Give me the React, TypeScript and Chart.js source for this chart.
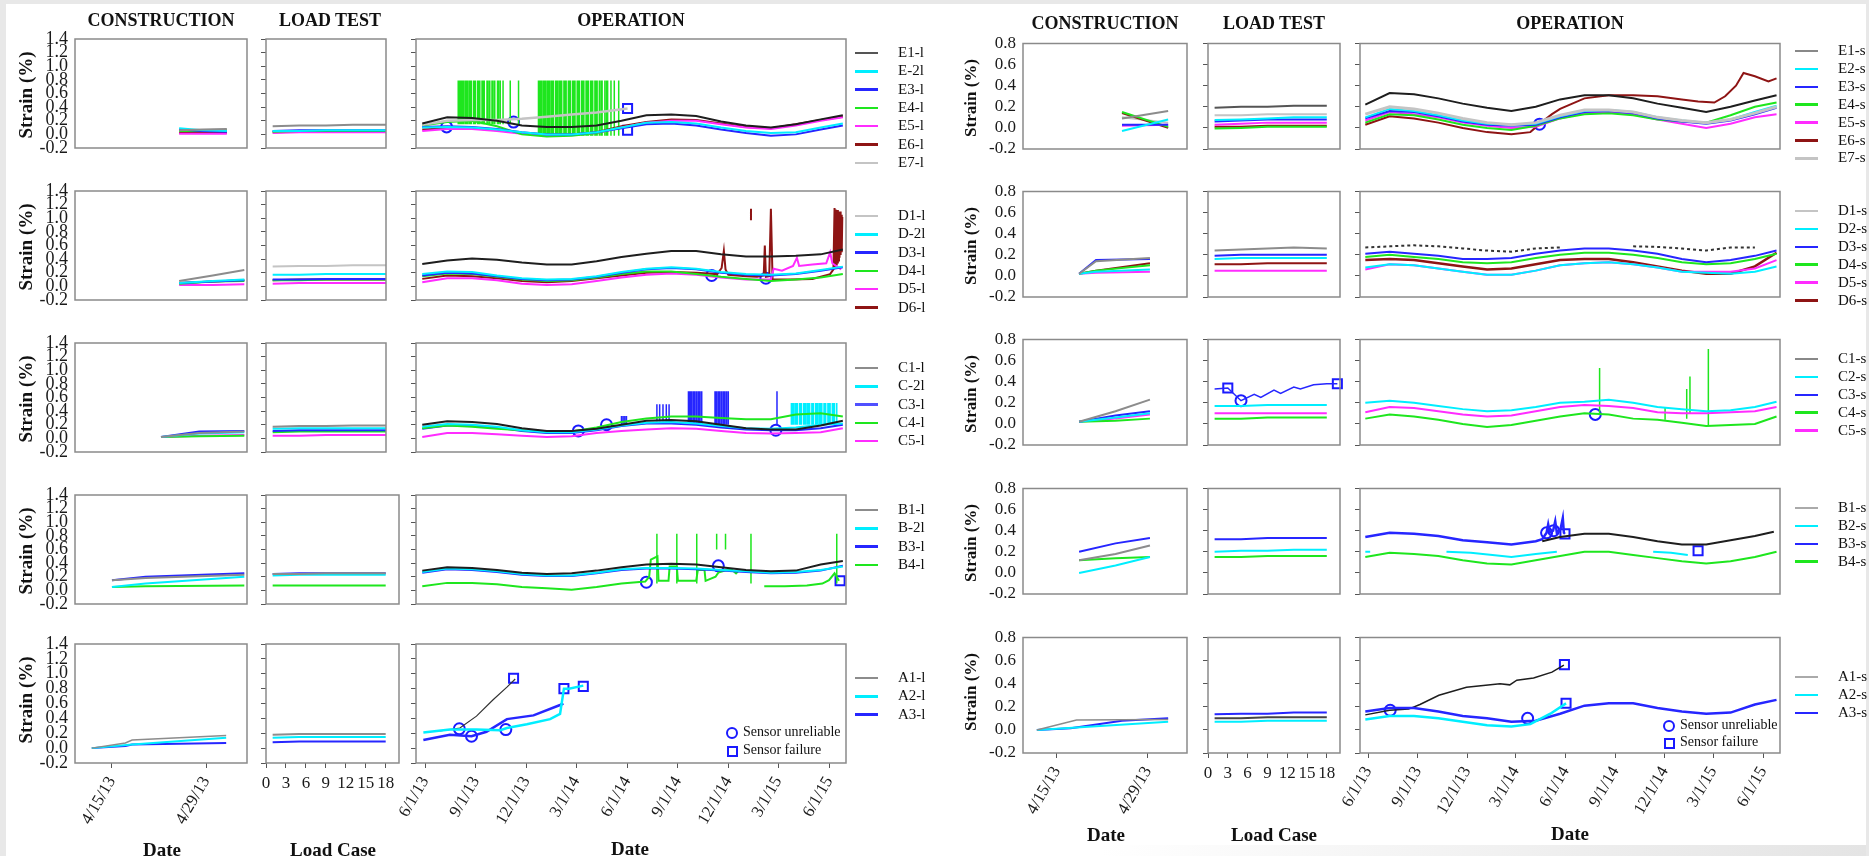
import React, { useEffect, useRef } from 'react';
import { Chart, registerables } from 'chart.js';
Chart.register(...registerables);

const SERIF = '"Liberation Serif","Times New Roman",serif';
const BLK = '#1e1e1e', GRY = '#8c8c8c', LGRY = '#c4c4c4', CYN = '#00eeff', BLU = '#2626ff', GRN = '#1ee61e', MAG = '#ff2cff', MAR = '#8e1414', MK = '#1a1aff';

// ---------- axes ----------
const OP_TICKS = [0, 92, 183, 273, 365, 457, 548, 638, 730];
const OP_LABELS = ['6/1/13', '9/1/13', '12/1/13', '3/1/14', '6/1/14', '9/1/14', '12/1/14', '3/1/15', '6/1/15'];
const CON_TICKS = [0, 14];
const CON_LABELS = ['4/15/13', '4/29/13'];
const LOAD_TICKS = [0, 3, 6, 9, 12, 15, 18];
const LOAD_LABELS = ['0', '3', '6', '9', '12', '15', '18'];
const Y_TICKS_L = [-0.2, 0, 0.2, 0.4, 0.6, 0.8, 1.0, 1.2, 1.4];
const Y_TICKS_R = [-0.2, 0, 0.2, 0.4, 0.6, 0.8];

// ---------- common grids ----------
const G = [-5, 40, 85, 130, 175, 220, 265, 310, 355, 400, 445, 490, 535, 580, 625, 670, 715, 755];
const LX = [1, 5, 9, 13, 18];

// ---------- LEFT construction ----------
const LC_E_X = [10, 13.5, 17.1];
const LC_E1 = [0.06, 0.07, 0.08];
const LC_E2 = [0.09, 0.06, 0.05];
const LC_E3 = [0.07, 0.05, 0.04];
const LC_E4 = [0.05, 0.05, 0.06];
const LC_E5 = [0.01, 0.01, 0.01];
const LC_E6 = [0.02, 0.02, 0.02];
const LC_E7 = [0.06, 0.06, 0.07];
const LC_D_X = [10, 15, 19.7];
const LC_D1 = [0.08, 0.16, 0.24];
const LC_D2 = [0.05, 0.08, 0.10];
const LC_D3 = [0.05, 0.07, 0.09];
const LC_D4 = [0.04, 0.07, 0.08];
const LC_D5 = [0.02, 0.02, 0.03];
const LC_D6 = [0.05, 0.07, 0.09];
const LC_C_X = [7.3, 13, 19.7];
const LC_C1 = [0.02, 0.08, 0.10];
const LC_C2 = [0.02, 0.07, 0.09];
const LC_C3 = [0.02, 0.10, 0.11];
const LC_C4 = [0.02, 0.03, 0.04];
const LC_C5 = [0.02, 0.04, 0.05];
const LC_B_X = [0, 5, 19.7];
const LC_B1 = [0.15, 0.18, 0.23];
const LC_B2 = [0.05, 0.10, 0.20];
const LC_B3 = [0.15, 0.20, 0.25];
const LC_B4 = [0.05, 0.06, 0.07];
const LC_A1_X = [-3, 2, 3, 17];
const LC_A1 = [0, 0.07, 0.11, 0.17];
const LC_A2_X = [-3, 3, 17];
const LC_A2 = [0, 0.05, 0.14];
const LC_A3_X = [-3, 2, 3, 17];
const LC_A3 = [0, 0.03, 0.05, 0.07];

// ---------- LEFT load test ----------
const LL_E1 = [0.12, 0.13, 0.13, 0.14, 0.14];
const LL_E2 = [0.05, 0.05, 0.06, 0.06, 0.06];
const LL_E3 = [0.05, 0.06, 0.06, 0.06, 0.06];
const LL_E4 = [0.04, 0.05, 0.05, 0.05, 0.05];
const LL_E5 = [0.02, 0.03, 0.03, 0.03, 0.03];
const LL_E6 = [0.03, 0.04, 0.04, 0.04, 0.04];
const LL_D1 = [0.29, 0.30, 0.30, 0.31, 0.31];
const LL_D2 = [0.17, 0.17, 0.18, 0.18, 0.18];
const LL_D3 = [0.10, 0.10, 0.11, 0.11, 0.11];
const LL_D4 = [0.09, 0.09, 0.10, 0.10, 0.10];
const LL_D5 = [0.04, 0.05, 0.05, 0.05, 0.05];
const LL_D6 = [0.09, 0.10, 0.10, 0.10, 0.10];
const LL_C1 = [0.17, 0.18, 0.18, 0.19, 0.19];
const LL_C2 = [0.14, 0.15, 0.15, 0.15, 0.15];
const LL_C3 = [0.11, 0.12, 0.12, 0.12, 0.12];
const LL_C4 = [0.09, 0.10, 0.10, 0.10, 0.10];
const LL_C5 = [0.04, 0.04, 0.05, 0.05, 0.05];
const LL_B1 = [0.24, 0.24, 0.25, 0.25, 0.25];
const LL_B2 = [0.22, 0.23, 0.23, 0.23, 0.23];
const LL_B3 = [0.24, 0.25, 0.25, 0.25, 0.25];
const LL_B4 = [0.07, 0.07, 0.07, 0.07, 0.07];
const LL_A1 = [0.18, 0.19, 0.19, 0.19, 0.19];
const LL_A2 = [0.14, 0.15, 0.15, 0.15, 0.15];
const LL_A3 = [0.08, 0.09, 0.09, 0.09, 0.09];

// ---------- LEFT operation ----------
const LO_E1 = [0.16, 0.25, 0.24, 0.20, 0.13, 0.11, 0.11, 0.13, 0.20, 0.28, 0.29, 0.27, 0.19, 0.13, 0.10, 0.15, 0.22, 0.28];
const LO_E2 = [0.10, 0.11, 0.10, 0.07, 0.03, 0.00, 0.00, 0.03, 0.10, 0.17, 0.18, 0.16, 0.10, 0.05, 0.02, 0.03, 0.10, 0.16];
const LO_E3 = [0.11, 0.12, 0.11, 0.08, 0.03, 0.00, 0.00, 0.03, 0.09, 0.15, 0.16, 0.13, 0.07, 0.02, -0.02, 0.00, 0.07, 0.13];
const LO_E4_X = [-5, 40, 85, 130, 175, 220, 265, 310, 352];
const LO_E4 = [0.13, 0.18, 0.20, 0.12, 0.00, -0.03, -0.02, 0.02, 0.10];
const LO_E4_SPK1 = [60, 62, 64, 66, 68, 70, 73, 75, 77, 80, 82, 84, 88, 90, 91, 95, 97, 99, 103, 105, 107, 112, 114, 117, 121, 123, 126, 131, 133, 136, 141, 154, 169];
const LO_E4_SPK2 = [205, 207, 208, 210, 211, 214, 216, 218, 221, 223, 225, 228, 230, 232, 236, 238, 240, 243, 245, 247, 251, 253, 255, 259, 261, 263, 267, 269, 271, 275, 277, 279, 283, 285, 287, 291, 293, 295, 299, 301, 303, 307, 309, 311, 315, 318, 320, 325, 328, 330, 336, 342, 350];
const LO_E5 = [0.05, 0.08, 0.08, 0.05, 0.01, -0.01, -0.01, 0.02, 0.10, 0.17, 0.20, 0.20, 0.15, 0.10, 0.08, 0.13, 0.20, 0.25];
const LO_E6 = [0.07, 0.09, 0.09, 0.06, 0.02, 0.00, 0.00, 0.03, 0.12, 0.18, 0.22, 0.21, 0.16, 0.11, 0.09, 0.15, 0.21, 0.26];
const LO_E7_X = [-5, 40, 85, 130, 175, 220, 265, 310, 366];
const LO_E7 = [0.14, 0.20, 0.21, 0.21, 0.23, 0.26, 0.29, 0.32, 0.38];

const LO_D1 = [0.33, 0.38, 0.41, 0.39, 0.35, 0.32, 0.32, 0.37, 0.43, 0.48, 0.52, 0.52, 0.47, 0.44, 0.44, 0.45, 0.47, 0.54];
const LO_D2 = [0.18, 0.22, 0.21, 0.16, 0.12, 0.10, 0.11, 0.15, 0.21, 0.26, 0.28, 0.26, 0.21, 0.18, 0.17, 0.19, 0.24, 0.29];
const LO_D3 = [0.16, 0.20, 0.19, 0.15, 0.11, 0.09, 0.10, 0.14, 0.20, 0.25, 0.27, 0.25, 0.20, 0.17, 0.16, 0.18, 0.23, 0.28];
const LO_D4 = [0.15, 0.19, 0.18, 0.14, 0.10, 0.08, 0.09, 0.13, 0.18, 0.22, 0.22, 0.18, 0.14, 0.11, 0.08, 0.10, 0.13, 0.18];
const LO_D5_X = [-5, 40, 85, 130, 175, 220, 265, 310, 355, 400, 445, 490, 535, 580, 625, 630, 645, 665, 672, 676, 700, 725, 732, 736, 752];
const LO_D5 = [0.06, 0.12, 0.12, 0.09, 0.04, 0.02, 0.03, 0.08, 0.13, 0.17, 0.19, 0.17, 0.13, 0.10, 0.10, 0.26, 0.23, 0.30, 0.42, 0.30, 0.32, 0.34, 0.50, 0.34, 0.25];
const LO_D6_X = [-5, 40, 85, 130, 175, 220, 265, 310, 355, 400, 445, 490, 528, 536, 540, 543, 548, 580, 600, 612, 614, 616, 622, 625, 628, 660, 700, 732, 738, 740, 741, 742, 743, 744, 745, 746, 747, 748, 749, 750, 751, 752, 753, 754, 755, 589, 589];
const LO_D6 = [0.11, 0.16, 0.15, 0.12, 0.08, 0.06, 0.08, 0.12, 0.16, 0.20, 0.21, 0.20, 0.18, 0.27, 0.52, 0.25, 0.17, 0.15, 0.14, 0.16, 0.60, 0.14, 0.15, 1.14, 0.10, 0.10, 0.11, 0.18, 0.25, 1.15, 0.30, 1.13, 0.32, 1.12, 0.35, 1.12, 0.38, 1.10, 0.42, 1.10, 0.46, 1.05, 0.50, 1.02, null, 0.97, 1.14];

const LO_C1 = [0.20, 0.25, 0.24, 0.21, 0.15, 0.11, 0.11, 0.14, 0.20, 0.26, 0.27, 0.25, 0.20, 0.15, 0.13, 0.13, 0.19, 0.26];
const LO_C2 = [0.17, 0.21, 0.20, 0.17, 0.12, 0.09, 0.09, 0.13, 0.19, 0.23, 0.24, 0.22, 0.18, 0.15, 0.14, 0.16, 0.20, 0.22];
const LO_C2_SPK = [662, 664, 666, 669, 671, 673, 677, 679, 680, 684, 686, 688, 691, 693, 695, 699, 701, 702, 706, 708, 710, 713, 715, 717, 721, 723, 724, 728, 730, 732, 736, 738, 740, 744];
const LO_C3 = [0.14, 0.19, 0.19, 0.16, 0.11, 0.08, 0.08, 0.12, 0.18, 0.22, 0.22, 0.20, 0.16, 0.13, 0.12, 0.12, 0.15, 0.20];
const LO_C3_SPK_A = [355, 358, 361, 364];
const LO_C3_SPK_B = [419, 424, 430, 436, 441];
const LO_C3_SPK_C = [476, 478, 479, 481, 482, 485, 487, 488, 491, 494, 496, 497, 500, 524, 526, 527, 530, 532, 533, 536, 539, 541, 542, 545, 548, 636];
const LO_C4 = [0.15, 0.19, 0.17, 0.14, 0.12, 0.10, 0.10, 0.16, 0.24, 0.29, 0.32, 0.32, 0.30, 0.28, 0.28, 0.35, 0.37, 0.32];
const LO_C5 = [0.02, 0.08, 0.08, 0.06, 0.04, 0.02, 0.03, 0.08, 0.11, 0.13, 0.15, 0.14, 0.11, 0.08, 0.07, 0.08, 0.09, 0.15];

const LO_B1 = [0.29, 0.34, 0.33, 0.30, 0.26, 0.24, 0.25, 0.29, 0.34, 0.38, 0.39, 0.38, 0.34, 0.30, 0.28, 0.29, 0.38, 0.43];
const LO_B2 = [0.27, 0.32, 0.31, 0.28, 0.24, 0.22, 0.22, 0.26, 0.31, 0.33, 0.33, 0.32, 0.30, 0.28, 0.26, 0.27, 0.30, 0.35];
const LO_B3 = [0.26, 0.31, 0.30, 0.27, 0.23, 0.21, 0.21, 0.25, 0.30, 0.32, 0.32, 0.31, 0.29, 0.27, 0.25, 0.26, 0.29, 0.36];
const LO_B4_X = [-5, 40, 85, 130, 175, 220, 265, 310, 355, 398, 405, 408, 420, 422, 440, 442, 455, 457, 490, 493, 505, 507, 525, 530, 545, 555, 562, 568, 575, 580, 613, 650, 690, 718, 730, 740, 748];
const LO_B4 = [0.06, 0.11, 0.11, 0.09, 0.05, 0.03, 0.01, 0.05, 0.10, 0.13, 0.20, 0.45, 0.50, 0.14, 0.14, 0.35, 0.35, 0.14, 0.14, 0.30, 0.30, 0.14, 0.20, 0.26, 0.30, 0.30, 0.25, 0.30, 0.30, null, 0.06, 0.06, 0.07, 0.10, 0.15, 0.25, 0.14];
const LO_B4_SPK = [419, 455, 491, 589, 744];
const LO_B4_SPK_SHORT = [527, 543];

const LO_A1_X = [27, 63, 93, 123, 148, 163];
const LO_A1 = [0.23, 0.27, 0.43, 0.65, 0.82, 0.93];
const LO_A2_X = [-3, 45, 93, 136, 148, 184, 226, 244, 251, 260, 286];
const LO_A2 = [0.21, 0.25, 0.25, 0.24, 0.27, 0.32, 0.39, 0.46, 0.80, 0.80, 0.84];
const LO_A3_X = [-3, 45, 84, 111, 148, 196, 244, 250];
const LO_A3 = [0.11, 0.18, 0.16, 0.22, 0.39, 0.44, 0.58, 0.60];

// ---------- RIGHT construction ----------
const RC_E_X = [10, 17.1];
const RC_E1 = [0.09, 0.16];
const RC_E2 = [-0.03, 0.08];
const RC_E3 = [0.03, 0.03];
const RC_E4 = [0.15, 0.01];
const RC_E5 = [0.02, 0.03];
const RC_E6 = [0.14, 0.0];
const RC_E7 = [0.10, 0.05];
const RC_D_X = [3.4, 6, 14.3];
const RC_D1 = [0.02, 0.14, 0.17];
const RC_D2 = [0.02, 0.04, 0.06];
const RC_D3 = [0.02, 0.15, 0.16];
const RC_D4 = [0.02, 0.05, 0.10];
const RC_D5 = [0.02, 0.03, 0.04];
const RC_D6 = [0.02, 0.05, 0.12];
const RC_C_X = [3.4, 9, 14.3];
const RC_C1 = [0.02, 0.12, 0.23];
const RC_C2 = [0.02, 0.06, 0.10];
const RC_C3 = [0.02, 0.08, 0.12];
const RC_C4 = [0.02, 0.03, 0.05];
const RC_C5 = [0.02, 0.05, 0.09];
const RC_B_X = [3.4, 9, 14.3];
const RC_B1 = [0.12, 0.18, 0.26];
const RC_B2 = [0.0, 0.07, 0.15];
const RC_B3 = [0.20, 0.28, 0.33];
const RC_B4 = [0.12, 0.14, 0.15];
const RC_A1_X = [-3.1, 3, 17.1];
const RC_A1 = [0, 0.085, 0.09];
const RC_A2_X = [-3.1, 17.1];
const RC_A2 = [0, 0.07];
const RC_A3_X = [-3.1, 2.1, 10, 17.1];
const RC_A3 = [0, 0.015, 0.08, 0.10];

// ---------- RIGHT load test ----------
const RL_E1 = [0.19, 0.20, 0.20, 0.21, 0.21];
const RL_E2 = [0.075, 0.08, 0.09, 0.10, 0.10];
const RL_E3 = [0.06, 0.07, 0.08, 0.08, 0.08];
const RL_E4 = [-0.005, 0.0, 0.01, 0.01, 0.01];
const RL_E5 = [0.03, 0.04, 0.05, 0.05, 0.05];
const RL_E6 = [0.01, 0.01, 0.02, 0.02, 0.02];
const RL_E7 = [0.12, 0.12, 0.13, 0.13, 0.13];
const RL_D1 = [0.24, 0.25, 0.26, 0.27, 0.26];
const RL_D2 = [0.16, 0.17, 0.17, 0.17, 0.17];
const RL_D3 = [0.19, 0.20, 0.20, 0.20, 0.20];
const RL_D5 = [0.05, 0.05, 0.05, 0.05, 0.05];
const RL_D6 = [0.11, 0.11, 0.12, 0.12, 0.12];
const RL_C2 = [0.17, 0.17, 0.18, 0.18, 0.18];
const RL_C3_X = [1, 3, 5, 7, 8, 10, 11, 13, 14, 16, 18, 19.6];
const RL_C3 = [0.33, 0.34, 0.22, 0.28, 0.25, 0.32, 0.29, 0.35, 0.33, 0.37, 0.38, 0.38];
const RL_C4 = [0.05, 0.05, 0.06, 0.06, 0.06];
const RL_C5 = [0.10, 0.10, 0.10, 0.10, 0.10];
const RL_B2 = [0.20, 0.21, 0.21, 0.22, 0.22];
const RL_B3 = [0.32, 0.32, 0.33, 0.33, 0.33];
const RL_B4 = [0.15, 0.15, 0.16, 0.16, 0.16];
const RL_A1 = [0.10, 0.10, 0.11, 0.11, 0.11];
const RL_A2 = [0.07, 0.07, 0.08, 0.08, 0.08];
const RL_A3 = [0.135, 0.14, 0.14, 0.15, 0.15];

// ---------- RIGHT operation ----------
const RO_E1 = [0.22, 0.33, 0.32, 0.28, 0.23, 0.19, 0.16, 0.20, 0.27, 0.31, 0.31, 0.28, 0.23, 0.19, 0.15, 0.20, 0.26, 0.31];
const RO_E2 = [0.10, 0.18, 0.16, 0.12, 0.07, 0.04, 0.03, 0.04, 0.11, 0.16, 0.17, 0.15, 0.10, 0.07, 0.05, 0.08, 0.15, 0.21];
const RO_E3 = [0.09, 0.16, 0.15, 0.11, 0.06, 0.03, 0.02, 0.03, 0.10, 0.15, 0.16, 0.14, 0.09, 0.06, 0.04, 0.07, 0.13, 0.19];
const RO_E4 = [0.05, 0.13, 0.12, 0.08, 0.03, 0.00, -0.02, 0.02, 0.09, 0.13, 0.14, 0.12, 0.08, 0.06, 0.05, 0.12, 0.20, 0.24];
const RO_E5 = [0.07, 0.15, 0.13, 0.10, 0.05, 0.02, 0.00, 0.01, 0.09, 0.14, 0.15, 0.13, 0.08, 0.04, 0.00, 0.04, 0.10, 0.13];
const RO_E6_X = [-5, 40, 85, 130, 175, 220, 265, 300, 320, 340, 355, 400, 445, 490, 535, 580, 610, 640, 660, 680, 694, 715, 740, 755];
const RO_E6 = [0.03, 0.11, 0.09, 0.05, 0.00, -0.04, -0.06, -0.04, 0.05, 0.13, 0.18, 0.28, 0.31, 0.31, 0.30, 0.27, 0.25, 0.24, 0.30, 0.40, 0.52, 0.49, 0.44, 0.47];
const RO_E7 = [0.13, 0.20, 0.18, 0.14, 0.09, 0.05, 0.03, 0.05, 0.12, 0.17, 0.17, 0.15, 0.10, 0.07, 0.05, 0.08, 0.14, 0.20];

const RO_D1 = [0.27, 0.28, 0.29, 0.28, 0.26, 0.24, 0.23, 0.26, 0.27, null, null, 0.28, 0.275, 0.26, 0.24, 0.27, 0.27, null];
const RO_D2 = [0.08, 0.11, 0.10, 0.07, 0.04, 0.01, 0.01, 0.05, 0.10, 0.12, 0.13, 0.11, 0.08, 0.04, 0.03, 0.02, 0.04, 0.09];
const RO_D3 = [0.21, 0.23, 0.21, 0.19, 0.16, 0.16, 0.17, 0.21, 0.24, 0.26, 0.26, 0.24, 0.21, 0.16, 0.13, 0.15, 0.19, 0.24];
const RO_D4 = [0.18, 0.20, 0.18, 0.16, 0.13, 0.12, 0.13, 0.17, 0.20, 0.22, 0.22, 0.20, 0.17, 0.13, 0.11, 0.12, 0.16, 0.21];
const RO_D5 = [0.06, 0.11, 0.10, 0.07, 0.04, 0.01, 0.01, 0.05, 0.10, 0.12, 0.13, 0.11, 0.08, 0.04, 0.04, 0.04, 0.07, 0.15];
const RO_D6 = [0.15, 0.16, 0.15, 0.12, 0.09, 0.06, 0.07, 0.11, 0.15, 0.16, 0.16, 0.13, 0.09, 0.05, 0.02, 0.02, 0.09, 0.22];

const RO_C2 = [0.20, 0.22, 0.20, 0.17, 0.14, 0.12, 0.13, 0.16, 0.20, 0.21, 0.23, 0.20, 0.16, 0.14, 0.12, 0.13, 0.16, 0.21];
const RO_C4 = [0.05, 0.09, 0.07, 0.04, 0.00, -0.03, -0.01, 0.03, 0.07, 0.10, 0.09, 0.05, 0.04, 0.01, -0.02, -0.01, 0.00, 0.07];
const RO_C5 = [0.11, 0.16, 0.15, 0.12, 0.09, 0.07, 0.08, 0.12, 0.16, 0.18, 0.17, 0.15, 0.11, 0.10, 0.10, 0.11, 0.12, 0.16];
const RO_C4_SPK_DAYS = [428, 549, 589, 595, 629];
const RO_C4_SPK_LOW = [0.10, 0.04, 0.05, 0.10, -0.02];
const RO_C4_SPK_HIGH = [0.53, 0.16, 0.33, 0.45, 0.71];

const RO_B1_X = [322, 355, 400, 445, 490, 535, 580, 625, 670, 715, 750];
const RO_B1 = [0.30, 0.34, 0.37, 0.37, 0.34, 0.30, 0.27, 0.27, 0.31, 0.35, 0.39];
const RO_B2_X = [-5, 4, 100, 145, 190, 230, 265, 310, 349, 450, 527, 560, 591];
const RO_B2 = [0.20, 0.20, null, 0.20, 0.19, 0.17, 0.15, 0.18, 0.20, null, 0.20, 0.19, 0.17];
const RO_B3_X = [-5, 40, 85, 130, 175, 220, 265, 310, 322, 330, 333, 336, 342, 346, 349, 356, 360, 362, 364];
const RO_B3 = [0.34, 0.38, 0.37, 0.35, 0.31, 0.29, 0.27, 0.30, 0.32, 0.38, 0.46, 0.38, 0.40, 0.49, 0.38, 0.42, 0.52, 0.38, 0.37];
const RO_B4 = [0.15, 0.19, 0.18, 0.16, 0.12, 0.09, 0.08, 0.12, 0.16, 0.20, 0.20, 0.17, 0.14, 0.11, 0.09, 0.11, 0.15, 0.20];

const RO_A1_X = [-5, 40, 75, 96, 131, 182, 244, 262, 275, 306, 340, 362];
const RO_A1 = [0.13, 0.17, 0.18, 0.22, 0.30, 0.37, 0.40, 0.39, 0.43, 0.45, 0.50, 0.56];
const RO_A2_X = [-5, 40, 85, 130, 175, 220, 265, 300, 337, 366];
const RO_A2 = [0.09, 0.12, 0.12, 0.10, 0.07, 0.04, 0.03, 0.05, 0.14, 0.23];
const RO_A3 = [0.16, 0.19, 0.19, 0.16, 0.12, 0.10, 0.07, 0.08, 0.14, 0.21, 0.23, 0.23, 0.19, 0.16, 0.14, 0.15, 0.22, 0.26];

// ---------- legends ----------
const LEG_L_E = ['E1-l', 'E-2l', 'E3-l', 'E4-l', 'E5-l', 'E6-l', 'E7-l'];
const LEG_L_D = ['D1-l', 'D-2l', 'D3-l', 'D4-l', 'D5-l', 'D6-l'];
const LEG_L_C = ['C1-l', 'C-2l', 'C3-l', 'C4-l', 'C5-l'];
const LEG_L_B = ['B1-l', 'B-2l', 'B3-l', 'B4-l'];
const LEG_L_A = ['A1-l', 'A2-l', 'A3-l'];
const LEG_R_E = ['E1-s', 'E2-s', 'E3-s', 'E4-s', 'E5-s', 'E6-s', 'E7-s'];
const LEG_R_D = ['D1-s', 'D2-s', 'D3-s', 'D4-s', 'D5-s', 'D6-s'];
const LEG_R_C = ['C1-s', 'C2-s', 'C3-s', 'C4-s', 'C5-s'];
const LEG_R_B = ['B1-s', 'B2-s', 'B3-s', 'B4-s'];
const LEG_R_A = ['A1-s', 'A2-s', 'A3-s'];
const COL_E = ['#555555', CYN, BLU, GRN, MAG, MAR, LGRY];
const COL_D = [LGRY, CYN, BLU, GRN, MAG, MAR];
const COL_C = [GRY, CYN, '#5050ff', GRN, MAG];
const COL_B = [GRY, CYN, BLU, GRN];
const COL_A = [GRY, CYN, BLU];

// ---------- types ----------
type S = { c: string; x: number[]; y: (number | null)[]; w?: number; d?: number[] };
type K = { c: string; days: number[]; lo: number[]; hi: number[]; w?: number };
type M = [number, number];
type P = { h: 'L' | 'R'; r: number; k: 'con' | 'load' | 'op'; s: S[]; spk?: K[]; circ?: M[]; sq?: M[] };

const s = (c: string, x: number[], y: (number | null)[], w = 2, d?: number[]): S => ({ c, x, y, w, d });
const spk = (c: string, days: number[], lo: number, hi: number): K => ({ c, days, lo: days.map(() => lo), hi: days.map(() => hi) });

const PANELS: P[] = [
  // LEFT row E
  { h: 'L', r: 0, k: 'con', s: [s(GRY, LC_E_X, LC_E1), s(CYN, LC_E_X, LC_E2), s(BLU, LC_E_X, LC_E3), s(GRN, LC_E_X, LC_E4), s(MAG, LC_E_X, LC_E5), s(MAR, LC_E_X, LC_E6), s(LGRY, LC_E_X, LC_E7)] },
  { h: 'L', r: 0, k: 'load', s: [s(GRY, LX, LL_E1), s(CYN, LX, LL_E2), s(BLU, LX, LL_E3), s(GRN, LX, LL_E4), s(MAG, LX, LL_E5), s(MAR, LX, LL_E6)] },
  { h: 'L', r: 0, k: 'op', s: [s(BLK, G, LO_E1), s(LGRY, LO_E7_X, LO_E7, 2.5), s(CYN, G, LO_E2), s(BLU, G, LO_E3), s(GRN, LO_E4_X, LO_E4), s(MAG, G, LO_E5), s(MAR, G, LO_E6)],
    spk: [spk(GRN, LO_E4_SPK1, 0.15, 0.79), spk(GRN, LO_E4_SPK2, -0.02, 0.79)], circ: [[39, 0.11], [160, 0.18]], sq: [[366, 0.38], [366, 0.06]] },
  // LEFT row D
  { h: 'L', r: 1, k: 'con', s: [s(GRY, LC_D_X, LC_D1), s(CYN, LC_D_X, LC_D2), s(BLU, LC_D_X, LC_D3), s(GRN, LC_D_X, LC_D4), s(MAG, LC_D_X, LC_D5), s(MAR, LC_D_X, LC_D6)] },
  { h: 'L', r: 1, k: 'load', s: [s(LGRY, LX, LL_D1), s(CYN, LX, LL_D2), s(BLU, LX, LL_D3), s(GRN, LX, LL_D4), s(MAG, LX, LL_D5), s(MAR, LX, LL_D6)] },
  { h: 'L', r: 1, k: 'op', s: [s(BLK, G, LO_D1), s(CYN, G, LO_D2), s(BLU, G, LO_D3), s(GRN, G, LO_D4), s(MAG, LO_D5_X, LO_D5), s(MAR, LO_D6_X, LO_D6)],
    circ: [[518, 0.16], [616, 0.12]] },
  // LEFT row C
  { h: 'L', r: 2, k: 'con', s: [s(GRY, LC_C_X, LC_C1), s(CYN, LC_C_X, LC_C2), s(BLU, LC_C_X, LC_C3), s(GRN, LC_C_X, LC_C4), s(MAG, LC_C_X, LC_C5)] },
  { h: 'L', r: 2, k: 'load', s: [s(GRY, LX, LL_C1), s(CYN, LX, LL_C2), s(BLU, LX, LL_C3), s(GRN, LX, LL_C4), s(MAG, LX, LL_C5)] },
  { h: 'L', r: 2, k: 'op', s: [s(BLK, G, LO_C1), s(CYN, G, LO_C2), s(GRN, G, LO_C4), s(BLU, G, LO_C3), s(MAG, G, LO_C5)],
    spk: [spk(CYN, LO_C2_SPK, 0.2, 0.52), spk(BLU, LO_C3_SPK_A, 0.2, 0.33), spk(BLU, LO_C3_SPK_B, 0.25, 0.5), spk(BLU, LO_C3_SPK_C, 0.2, 0.69)],
    circ: [[277, 0.11], [328, 0.2], [634, 0.12]] },
  // LEFT row B
  { h: 'L', r: 3, k: 'con', s: [s(GRY, LC_B_X, LC_B1), s(CYN, LC_B_X, LC_B2), s(BLU, LC_B_X, LC_B3), s(GRN, LC_B_X, LC_B4)] },
  { h: 'L', r: 3, k: 'load', s: [s(GRY, LX, LL_B1), s(CYN, LX, LL_B2), s(BLU, LX, LL_B3), s(GRN, LX, LL_B4)] },
  { h: 'L', r: 3, k: 'op', s: [s(BLK, G, LO_B1), s(CYN, G, LO_B2), s(BLU, G, LO_B3), s(GRN, LO_B4_X, LO_B4)],
    spk: [spk(GRN, LO_B4_SPK, 0.1, 0.83), spk(GRN, LO_B4_SPK_SHORT, 0.6, 0.83)],
    circ: [[400, 0.12], [530, 0.36]], sq: [[750, 0.14]] },
  // LEFT row A
  { h: 'L', r: 4, k: 'con', s: [s(GRY, LC_A1_X, LC_A1, 1.5), s(CYN, LC_A2_X, LC_A2), s(BLU, LC_A3_X, LC_A3)] },
  { h: 'L', r: 4, k: 'load', s: [s(GRY, LX, LL_A1), s(CYN, LX, LL_A2), s(BLU, LX, LL_A3)] },
  { h: 'L', r: 4, k: 'op', s: [s(CYN, LO_A2_X, LO_A2, 2.5), s(BLU, LO_A3_X, LO_A3, 2.5), s('#333333', LO_A1_X, LO_A1, 1.2)],
    circ: [[62, 0.26], [84, 0.16], [146, 0.25]], sq: [[160, 0.94], [251, 0.8], [286, 0.83]] },

  // RIGHT row E
  { h: 'R', r: 0, k: 'con', s: [s(GRY, RC_E_X, RC_E1), s(CYN, RC_E_X, RC_E2), s(BLU, RC_E_X, RC_E3), s(GRN, RC_E_X, RC_E4), s(MAG, RC_E_X, RC_E5), s(MAR, RC_E_X, RC_E6), s(LGRY, RC_E_X, RC_E7)] },
  { h: 'R', r: 0, k: 'load', s: [s('#555555', LX, RL_E1), s(LGRY, LX, RL_E7), s(CYN, LX, RL_E2), s(BLU, LX, RL_E3), s(GRN, LX, RL_E4), s(MAG, LX, RL_E5), s(MAR, LX, RL_E6)] },
  { h: 'R', r: 0, k: 'op', s: [s(BLK, G, RO_E1), s(LGRY, G, RO_E7, 3), s(CYN, G, RO_E2), s(BLU, G, RO_E3), s(GRN, G, RO_E4), s(MAG, G, RO_E5), s(MAR, RO_E6_X, RO_E6)],
    circ: [[317, 0.035]] },
  // RIGHT row D
  { h: 'R', r: 1, k: 'con', s: [s(GRY, RC_D_X, RC_D1), s(CYN, RC_D_X, RC_D2), s(BLU, RC_D_X, RC_D3), s(GRN, RC_D_X, RC_D4), s(MAG, RC_D_X, RC_D5), s(MAR, RC_D_X, RC_D6)] },
  { h: 'R', r: 1, k: 'load', s: [s(GRY, LX, RL_D1), s(CYN, LX, RL_D2), s(BLU, LX, RL_D3), s(MAG, LX, RL_D5), s(MAR, LX, RL_D6)] },
  { h: 'R', r: 1, k: 'op', s: [s('#333333', G, RO_D1, 2, [3, 3]), s(CYN, G, RO_D2), s(BLU, G, RO_D3), s(GRN, G, RO_D4), s(MAG, G, RO_D5), s(MAR, G, RO_D6, 2.5)] },
  // RIGHT row C
  { h: 'R', r: 2, k: 'con', s: [s(GRY, RC_C_X, RC_C1), s(CYN, RC_C_X, RC_C2), s(BLU, RC_C_X, RC_C3), s(GRN, RC_C_X, RC_C4), s(MAG, RC_C_X, RC_C5)] },
  { h: 'R', r: 2, k: 'load', s: [s(CYN, LX, RL_C2), s(MAG, LX, RL_C5), s(GRN, LX, RL_C4), s(BLU, RL_C3_X, RL_C3, 1.5)],
    circ: [[5, 0.22]], sq: [[3, 0.34], [19.6, 0.38]] },
  { h: 'R', r: 2, k: 'op', s: [s(CYN, G, RO_C2), s(MAG, G, RO_C5), s(GRN, G, RO_C4)],
    spk: [{ c: GRN, days: RO_C4_SPK_DAYS, lo: RO_C4_SPK_LOW, hi: RO_C4_SPK_HIGH }], circ: [[420, 0.09]] },
  // RIGHT row B
  { h: 'R', r: 3, k: 'con', s: [s(GRY, RC_B_X, RC_B1), s(CYN, RC_B_X, RC_B2), s(BLU, RC_B_X, RC_B3), s(GRN, RC_B_X, RC_B4)] },
  { h: 'R', r: 3, k: 'load', s: [s(CYN, LX, RL_B2), s(BLU, LX, RL_B3), s(GRN, LX, RL_B4)] },
  { h: 'R', r: 3, k: 'op', s: [s(BLK, RO_B1_X, RO_B1), s(CYN, RO_B2_X, RO_B2), s(BLU, RO_B3_X, RO_B3, 2.5), s(GRN, G, RO_B4)],
    circ: [[330, 0.38], [343, 0.40]], sq: [[364, 0.37], [610, 0.21]] },
  // RIGHT row A
  { h: 'R', r: 4, k: 'con', s: [s(GRY, RC_A1_X, RC_A1, 1.5), s(CYN, RC_A2_X, RC_A2), s(BLU, RC_A3_X, RC_A3)] },
  { h: 'R', r: 4, k: 'load', s: [s(BLU, LX, RL_A3), s('#444444', LX, RL_A1), s(CYN, LX, RL_A2)] },
  { h: 'R', r: 4, k: 'op', s: [s(CYN, RO_A2_X, RO_A2, 2.5), s(BLU, G, RO_A3, 2.5), s(BLK, RO_A1_X, RO_A1, 1.5)],
    circ: [[41, 0.17], [295, 0.10]], sq: [[363, 0.565], [366, 0.23]] },
];

// ---------- layout ----------
const L_TOPS = [33, 185, 337, 489, 638];
const R_TOPS = [38, 186, 334, 483, 632];

function geom(p: P) {
  const isL = p.h === 'L';
  const top = (isL ? L_TOPS : R_TOPS)[p.r];
  const height = isL ? 125 : 121;
  let g: { left: number; width: number; min: number; max: number };
  if (p.k === 'con') g = isL ? { left: 75, width: 172, min: -5.5, max: 20.1 } : { left: 1023, width: 164, min: -5.23, max: 20 };
  else if (p.k === 'load') g = isL ? { left: 266, width: p.r >= 3 ? 133 : 120, min: 0, max: p.r >= 3 ? 20 : 18 } : { left: 1208, width: 132, min: 0, max: 20 };
  else g = isL ? { left: 416, width: 430, min: -16.3, max: 760.7 } : { left: 1360, width: 420, min: -14.8, max: 761.4 };
  return { ...g, top, height };
}

const boxPlugin = {
  id: 'panelBox',
  afterDraw(chart: any) {
    const { ctx, chartArea: a } = chart;
    ctx.save();
    ctx.strokeStyle = '#8a8a8a';
    ctx.lineWidth = 1.5;
    ctx.strokeRect(a.left, a.top, a.right - a.left, a.bottom - a.top);
    ctx.restore();
  },
};

function ChartPanel({ p }: { p: P }) {
  const ref = useRef<HTMLCanvasElement>(null);
  const g = geom(p);
  const isL = p.h === 'L';
  const bottom = p.r === 4;
  const PADL = 62, PADR = 12, PADT = 10, PADB = bottom ? 90 : 10;
  const W = g.width + PADL + PADR;
  const H = g.height + PADT + PADB;

  useEffect(() => {
    const datasets: any[] = [];
    for (const ser of p.s) {
      datasets.push({
        data: ser.x.map((x, i) => ({ x, y: ser.y[i] })),
        borderColor: ser.c, borderWidth: ser.w ?? 2, borderDash: ser.d ?? [],
        pointRadius: 0, tension: 0, spanGaps: false, fill: false,
      });
    }
    for (const k of p.spk ?? []) {
      const pts: any[] = [];
      k.days.forEach((d, i) => { pts.push({ x: d, y: k.lo[i] }, { x: d, y: k.hi[i] }, { x: d, y: null }); });
      datasets.push({ data: pts, borderColor: k.c, borderWidth: 1.5, pointRadius: 0, spanGaps: false, fill: false });
    }
    if (p.circ) datasets.push({ data: p.circ.map(([x, y]) => ({ x, y })), showLine: false, pointStyle: 'circle', pointRadius: 5.5, borderColor: MK, borderWidth: 2, backgroundColor: 'rgba(0,0,0,0)', clip: false });
    if (p.sq) datasets.push({ data: p.sq.map(([x, y]) => ({ x, y })), showLine: false, pointStyle: 'rect', pointRadius: 6.4, borderColor: MK, borderWidth: 2, backgroundColor: 'rgba(0,0,0,0)', clip: false });

    const xt = p.k === 'con' ? CON_TICKS : p.k === 'load' ? LOAD_TICKS : OP_TICKS;
    const xl = p.k === 'con' ? CON_LABELS : p.k === 'load' ? LOAD_LABELS : OP_LABELS;
    const rot = p.k === 'load' ? 0 : 60;
    const yt = isL ? Y_TICKS_L : Y_TICKS_R;
    const yLab = p.k === 'con';

    const chart = new Chart(ref.current as HTMLCanvasElement, {
      type: 'line',
      data: { datasets },
      options: {
        animation: false, responsive: false, devicePixelRatio: 1, events: [],
        layout: { autoPadding: false, padding: { left: 0, right: PADR, top: PADT, bottom: bottom ? 0 : PADB } },
        plugins: { legend: { display: false }, tooltip: { enabled: false } },
        scales: {
          x: {
            type: 'linear', min: g.min, max: g.max, display: bottom,
            afterFit: (sc: any) => { sc.height = PADB; },
            afterBuildTicks: (sc: any) => { sc.ticks = xt.map((v) => ({ value: v })); },
            grid: { display: true, drawOnChartArea: false, drawTicks: true, tickLength: 5, color: '#555555' },
            border: { display: false },
            ticks: {
              autoSkip: false, minRotation: rot, maxRotation: rot, padding: 5, color: '#1a1a1a',
              font: { family: SERIF, size: 17 },
              callback: (_v: any, i: number) => xl[i] ?? '',
            },
          },
          y: {
            type: 'linear', min: -0.2, max: isL ? 1.4 : 0.8,
            afterFit: (sc: any) => { sc.width = PADL; },
            afterBuildTicks: (sc: any) => { sc.ticks = yt.map((v) => ({ value: v })); },
            grid: yLab ? { display: false, drawTicks: false } : { display: true, drawOnChartArea: false, drawTicks: true, tickLength: 5, color: '#555555' },
            border: { display: false },
            ticks: {
              autoSkip: false, padding: 7, color: '#1a1a1a',
              font: { family: SERIF, size: isL ? 18 : 17, lineHeight: 1 },
              callback: (v: any) => (yLab ? Number(v).toFixed(1) : ''),
            },
          },
        },
      } as any,
      plugins: [boxPlugin],
    } as any);
    return () => chart.destroy();
  }, []);

  return (
    <canvas ref={ref} width={W} height={H}
      style={{ position: 'absolute', left: g.left - PADL, top: g.top - PADT, width: W, height: H }} />
  );
}

const txt = (extra: React.CSSProperties): React.CSSProperties => ({
  position: 'absolute', fontFamily: SERIF, color: '#111', whiteSpace: 'nowrap', lineHeight: 1, ...extra,
});

function Legend({ labels, colors, x0, y0, step }: { labels: string[]; colors: string[]; x0: number; y0: number; step: number }) {
  return (
    <>
      {labels.map((lab, i) => (
        <React.Fragment key={lab}>
          <div style={{ position: 'absolute', left: x0, top: y0 + i * step - 1.25, width: 23, height: 2.5, background: colors[i] }} />
          <div style={txt({ left: x0 + 43, top: y0 + i * step - 8, fontSize: 15 })}>{lab}</div>
        </React.Fragment>
      ))}
    </>
  );
}

function SensorKey({ x, y1, y2 }: { x: number; y1: number; y2: number }) {
  return (
    <>
      <div style={{ position: 'absolute', left: x - 6, top: y1 - 6, width: 8, height: 8, border: `2px solid ${MK}`, borderRadius: '50%' }} />
      <div style={txt({ left: x + 11, top: y1 - 8, fontSize: 14 })}>Sensor unreliable</div>
      <div style={{ position: 'absolute', left: x - 5, top: y2 - 5, width: 7, height: 7, border: `2px solid ${MK}` }} />
      <div style={txt({ left: x + 11, top: y2 - 8, fontSize: 14 })}>Sensor failure</div>
    </>
  );
}

const L_LEGENDS = [LEG_L_E, LEG_L_D, LEG_L_C, LEG_L_B, LEG_L_A];
const R_LEGENDS = [LEG_R_E, LEG_R_D, LEG_R_C, LEG_R_B, LEG_R_A];
const ROW_COLORS = [COL_E, COL_D, COL_C, COL_B, COL_A];
const R_COLORS = [['#888888', CYN, BLU, GRN, MAG, MAR, LGRY], COL_D, ['#888888', CYN, BLU, GRN, MAG], ['#aaaaaa', CYN, BLU, GRN], ['#aaaaaa', CYN, BLU]];
const L_LEG_OFF = [20, 31, 31, 21, 40];
const R_LEG_OFF = [13, 25, 25, 25, 45];

export default function App() {
  const title = (t: string, cx: number, cy: number) => (
    <div key={t + cx} style={txt({ left: cx, top: cy, transform: 'translate(-50%,-50%)', fontSize: 18, fontWeight: 'bold' })}>{t}</div>
  );
  const xTitle = (t: string, cx: number, cy: number) => (
    <div key={t + cx} style={txt({ left: cx, top: cy, transform: 'translate(-50%,-50%)', fontSize: 19, fontWeight: 'bold' })}>{t}</div>
  );
  const yTitle = (cx: number, cy: number, fs: number, k: string) => (
    <div key={k} style={txt({ left: cx, top: cy, transform: 'translate(-50%,-50%) rotate(-90deg)', fontSize: fs, fontWeight: 'bold' })}>Strain (%)</div>
  );
  return (
    <div style={{ position: 'absolute', left: 0, top: 0, width: 1869, height: 856, background: '#e8e8e8', overflow: 'hidden' }}>
      <div style={{ position: 'absolute', left: 6, top: 4, width: 1860, height: 852, background: '#ffffff' }} />
      <div style={{ position: 'absolute', left: 1100, top: 845, width: 766, height: 11, background: 'linear-gradient(to right, #ffffff, #e4e4e4)' }} />
      {PANELS.map((p, i) => <ChartPanel key={i} p={p} />)}
      {title('CONSTRUCTION', 161, 20)}
      {title('LOAD TEST', 330, 20)}
      {title('OPERATION', 631, 20)}
      {title('CONSTRUCTION', 1105, 23)}
      {title('LOAD TEST', 1274, 23)}
      {title('OPERATION', 1570, 23)}
      {L_TOPS.map((t, r) => yTitle(25, t + 62, 19, 'yl' + r))}
      {R_TOPS.map((t, r) => yTitle(970, t + 60, 17, 'yr' + r))}
      {xTitle('Date', 162, 849)}
      {xTitle('Load Case', 333, 849)}
      {xTitle('Date', 630, 848)}
      {xTitle('Date', 1106, 834)}
      {xTitle('Load Case', 1274, 834)}
      {xTitle('Date', 1570, 833)}
      {L_LEGENDS.map((labs, r) => <Legend key={'ll' + r} labels={labs} colors={ROW_COLORS[r]} x0={855} y0={L_TOPS[r] + L_LEG_OFF[r]} step={18.3} />)}
      {R_LEGENDS.map((labs, r) => <Legend key={'rl' + r} labels={labs} colors={R_COLORS[r]} x0={1795} y0={R_TOPS[r] + R_LEG_OFF[r]} step={17.9} />)}
      <SensorKey x={732} y1={733} y2={751} />
      <SensorKey x={1669} y1={726} y2={743} />
    </div>
  );
}
